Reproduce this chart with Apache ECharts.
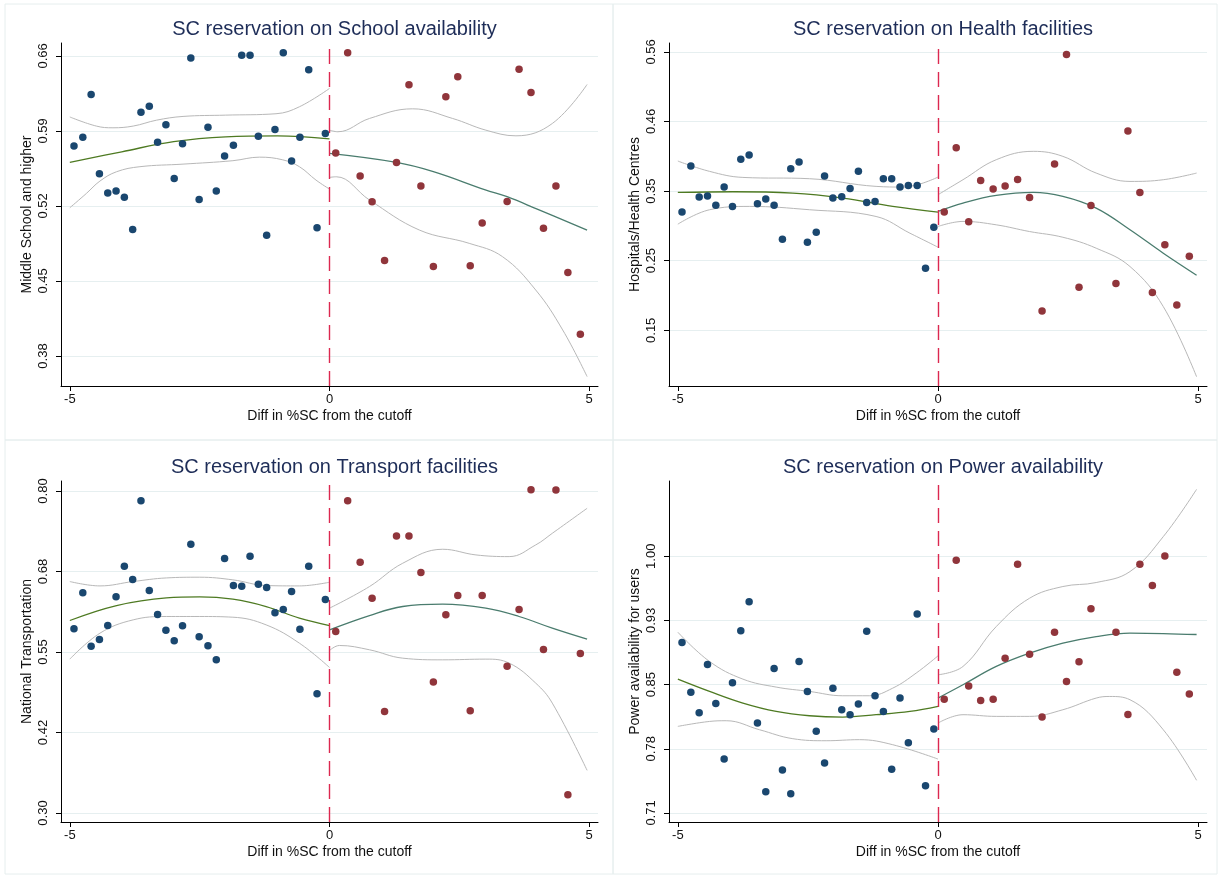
<!DOCTYPE html>
<html><head><meta charset="utf-8">
<script src="https://cdn.jsdelivr.net/npm/echarts@6/dist/echarts.min.js"></script>
<style>html,body{margin:0;padding:0;background:#fff;}#c{width:1222px;height:878px;}</style>
</head><body><div id="c"></div>
<script>
// ---------- shared bins (x positions) ----------
const binsLeft = [-4.92,-4.75,-4.59,-4.43,-4.27,-4.11,-3.95,-3.79,-3.63,-3.47,-3.31,-3.15,-2.99,-2.83,-2.67,-2.51,-2.34,-2.18,-2.02,-1.85,-1.69,-1.53,-1.37,-1.21,-1.05,-0.89,-0.73,-0.57,-0.40,-0.24,-0.08];
const binsRight = [0.12,0.35,0.59,0.82,1.06,1.29,1.53,1.76,2.00,2.24,2.47,2.71,2.94,3.42,3.65,3.88,4.12,4.36,4.59,4.83];

const xTicks = [-5, 0, 5];
const xTickLabels = ['-5', '0', '5'];

// ---------- Panel 1: School ----------
const schoolTitle = 'SC reservation on School availability';
const schoolYName = 'Middle School and higher';
const schoolTicks = [0.38, 0.45, 0.52, 0.59, 0.66];
const schoolTickLabels = ['0.38', '0.45', '0.52', '0.59', '0.66'];
const schoolRange = [0.352, 0.672];
const schoolLeft = [0.576,0.584,0.624,0.550,0.532,0.534,0.528,0.498,0.6075,0.613,0.5795,0.5957,0.5457,0.578,0.658,0.526,0.5935,0.534,0.5665,0.5767,0.6606,0.6606,0.585,0.4926,0.5913,0.6628,0.562,0.584,0.647,0.4997,0.5876];
const schoolRight = [0.5693,0.6628,0.548,0.524,0.469,0.5606,0.633,0.5385,0.4634,0.6218,0.6404,0.4643,0.504,0.5242,0.6476,0.6258,0.4991,0.5385,0.458,0.4003];
const schoolFitL = [[-5,0.5606],[-4,0.5705],[-3,0.580],[-2,0.5845],[-1,0.5854],[0,0.5826]];
const schoolHiL = [[-5,0.603],[-4.49,0.5945],[-4.17,0.5929],[-3.78,0.5945],[-3.33,0.600],[-2.82,0.6035],[-2.0,0.6047],[-1.03,0.6060],[-0.58,0.6125],[0,0.6296]];
const schoolLoL = [[-5,0.5183],[-4.68,0.5317],[-4.42,0.5432],[-4.1,0.5519],[-3.65,0.5566],[-2.82,0.559],[-1.86,0.5622],[-1.35,0.5655],[-0.9,0.5630],[-0.58,0.5566],[-0.26,0.5441],[0,0.5357]];
const schoolFitR = [[0,0.569],[1.29,0.5606],[2.0,0.552],[3.0,0.535],[3.42,0.5286],[4.0,0.517],[4.96,0.4975]];
const schoolHiR = [[0,0.5907],[0.16,0.5892],[0.77,0.6016],[1.6,0.6106],[2.37,0.6016],[3.01,0.5907],[3.59,0.5854],[4.29,0.5969],[4.96,0.6333]];
const schoolLoR = [[0,0.5466],[0.13,0.5472],[0.77,0.5255],[1.73,0.4975],[2.69,0.4851],[3.33,0.4727],[3.97,0.4416],[4.49,0.4043],[4.96,0.3608]];

// ---------- Panel 2: Health ----------
const healthTitle = 'SC reservation on Health facilities';
const healthYName = 'Hospitals/Health Centres';
const healthTicks = [0.15, 0.2525, 0.355, 0.4575, 0.56];
const healthTickLabels = ['0.15', '0.25', '0.35', '0.46', '0.56'];
const healthRange = [0.068, 0.573];
const healthLeft = [0.324,0.3919,0.3461,0.3476,0.3343,0.3609,0.3324,0.4017,0.4081,0.3363,0.3432,0.3343,0.2842,0.3879,0.3978,0.2798,0.2945,0.3771,0.3447,0.3466,0.3589,0.384,0.3383,0.3397,0.3732,0.3732,0.3609,0.3633,0.3633,0.2414,0.3019];
const healthRight = [0.324,0.4189,0.3098,0.3707,0.3579,0.3624,0.3722,0.3456,0.1785,0.3948,0.556,0.2134,0.3338,0.2188,0.4435,0.353,0.2055,0.2758,0.1873,0.2591];
const healthFitL = [[-5,0.353],[-3.94,0.354],[-2.79,0.352],[-1.83,0.3447],[-0.87,0.3324],[0,0.324]];
const healthHiL = [[-5,0.3992],[-4.39,0.384],[-3.75,0.3751],[-2.47,0.3732],[-1.19,0.3619],[-0.67,0.3609],[0,0.3756]];
const healthLoL = [[-5,0.3063],[-4.39,0.3275],[-3.62,0.3324],[-2.47,0.3275],[-1.19,0.3176],[-0.54,0.293],[0,0.2724]];
const healthFitR = [[0,0.325],[0.48,0.3373],[1.12,0.3486],[1.83,0.353],[2.40,0.3471],[3.04,0.3299],[3.69,0.298],[4.33,0.2635],[4.97,0.2311]];
const healthHiR = [[0,0.3496],[0.48,0.3717],[1.12,0.4012],[1.83,0.4135],[2.40,0.4061],[3.04,0.3815],[3.69,0.3692],[4.33,0.3717],[4.97,0.3815]];
const healthLoR = [[0,0.3029],[0.48,0.3103],[1.12,0.3053],[1.76,0.2954],[2.40,0.287],[3.04,0.2709],[3.69,0.2439],[4.33,0.1849],[4.97,0.0816]];

// ---------- Panel 3: Transport ----------
const transTitle = 'SC reservation on Transport facilities';
const transYName = 'National Transportation';
const transTicks = [0.30, 0.425, 0.55, 0.675, 0.80];
const transTickLabels = ['0.30', '0.42', '0.55', '0.68', '0.80'];
const transRange = [0.286, 0.8155];
const transLeft = [0.5859,0.6418,0.559,0.5694,0.5911,0.6356,0.6831,0.6625,0.785,0.6454,0.6082,0.5839,0.5673,0.5906,0.7173,0.5735,0.5596,0.5378,0.695,0.6532,0.6521,0.6987,0.6552,0.65,0.6108,0.616,0.6438,0.5854,0.6831,0.4851,0.6314];
const transRight = [0.5818,0.785,0.6893,0.6335,0.4577,0.7302,0.7302,0.6733,0.5032,0.6077,0.6376,0.4587,0.6376,0.528,0.616,0.802,0.5539,0.8015,0.3284,0.5477];
const transFitL = [[-5,0.5989],[-4.1,0.6221],[-3.14,0.634],[-2.5,0.6356],[-1.86,0.632],[-1.22,0.6206],[-0.58,0.6025],[0,0.5911]];
const transHiL = [[-5,0.6594],[-4.42,0.6526],[-3.78,0.6594],[-3.14,0.665],[-2.5,0.6661],[-1.86,0.662],[-1.22,0.6532],[-0.58,0.6526],[0,0.6583]];
const transLoL = [[-5,0.5389],[-4.42,0.5792],[-3.78,0.5999],[-3.14,0.6051],[-2.5,0.6051],[-1.86,0.604],[-1.22,0.5921],[-0.58,0.5637],[0,0.526]];
const transFitR = [[0,0.5844],[0.77,0.6066],[1.41,0.6206],[2.18,0.6242],[3.01,0.618],[3.65,0.6051],[4.29,0.587],[4.96,0.5699]];
const transHiR = [[0,0.618],[0.77,0.6516],[1.41,0.6878],[2.18,0.7095],[2.82,0.7007],[3.46,0.6981],[3.97,0.7162],[4.29,0.7343],[4.96,0.7731]];
const transLoR = [[0,0.5523],[0.19,0.5601],[0.77,0.5534],[1.41,0.5404],[2.18,0.5378],[3.01,0.5389],[3.46,0.5327],[3.97,0.5017],[4.29,0.4706],[4.96,0.3662]];

// ---------- Panel 4: Power ----------
const powerTitle = 'SC reservation on Power availability';
const powerYName = 'Power availability for users';
const powerTicks = [0.71, 0.7825, 0.855, 0.9275, 1.00];
const powerTickLabels = ['0.71', '0.78', '0.85', '0.93', '1.00'];
const powerRange = [0.6998, 1.085];
const powerLeft = [0.9026,0.8465,0.8232,0.8778,0.8337,0.7709,0.8571,0.9157,0.9485,0.8116,0.7341,0.8732,0.7585,0.7318,0.8811,0.8473,0.8022,0.7664,0.851,0.8266,0.821,0.833,0.9154,0.8424,0.8247,0.7593,0.8398,0.7894,0.9349,0.7408,0.8048];
const powerRight = [0.8386,0.9955,0.8533,0.8371,0.8386,0.8849,0.991,0.8894,0.8183,0.9142,0.8586,0.8808,0.9406,0.9142,0.8213,0.991,0.9669,1.0004,0.8691,0.8443];
const powerFitL = [[-5,0.8612],[-4.39,0.8473],[-3.75,0.8341],[-3.11,0.8247],[-2.47,0.8198],[-1.83,0.8183],[-1.19,0.821],[-0.54,0.8247],[0,0.8304]];
const powerHiL = [[-5,0.9142],[-4.39,0.8811],[-3.75,0.8612],[-3.11,0.8522],[-2.47,0.8473],[-1.83,0.8424],[-1.32,0.8424],[-0.87,0.851],[-0.42,0.868],[0,0.8875]];
const powerLoL = [[-5,0.8078],[-4.39,0.8134],[-4.07,0.8142],[-3.43,0.804],[-2.79,0.7939],[-2.15,0.7916],[-1.51,0.7928],[-0.87,0.7871],[0,0.7709]];
const powerFitR = [[0,0.8398],[0.48,0.8548],[1.12,0.8755],[1.76,0.8905],[2.40,0.9018],[3.04,0.9093],[3.69,0.9131],[4.33,0.9127],[4.97,0.9116]];
const powerHiR = [[0,0.8661],[0.48,0.8755],[1.12,0.9206],[1.76,0.9526],[2.40,0.9658],[3.04,0.9703],[3.69,0.9827],[4.33,1.0222],[4.97,1.0756]];
const powerLoR = [[0,0.8116],[0.48,0.821],[1.12,0.8191],[1.76,0.8191],[2.40,0.8266],[3.04,0.8398],[3.30,0.8416],[3.69,0.8379],[4.33,0.804],[4.97,0.7469]];

const xName = 'Diff in %SC from the cutoff';

// ---------- build ----------
const FONT = '"Liberation Sans", Arial, sans-serif';
const panels = [
  {title: schoolTitle, yName: schoolYName, ticks: schoolTicks, labels: schoolTickLabels, range: schoolRange, left: schoolLeft, right: schoolRight, fitL: schoolFitL, hiL: schoolHiL, loL: schoolLoL, fitR: schoolFitR, hiR: schoolHiR, loR: schoolLoR,
   grid: {left: 61, top: 43, width: 537, height: 343}, box: [5, 4, 608, 436]},
  {title: healthTitle, yName: healthYName, ticks: healthTicks, labels: healthTickLabels, range: healthRange, left: healthLeft, right: healthRight, fitL: healthFitL, hiL: healthHiL, loL: healthLoL, fitR: healthFitR, hiR: healthHiR, loR: healthLoR,
   grid: {left: 669, top: 43, width: 538, height: 343}, box: [613, 4, 604, 436]},
  {title: transTitle, yName: transYName, ticks: transTicks, labels: transTickLabels, range: transRange, left: transLeft, right: transRight, fitL: transFitL, hiL: transHiL, loL: transLoL, fitR: transFitR, hiR: transHiR, loR: transLoR,
   grid: {left: 61, top: 481, width: 537, height: 341}, box: [5, 440, 608, 434]},
  {title: powerTitle, yName: powerYName, ticks: powerTicks, labels: powerTickLabels, range: powerRange, left: powerLeft, right: powerRight, fitL: powerFitL, hiL: powerHiL, loL: powerLoL, fitR: powerFitR, hiR: powerHiR, loR: powerLoR,
   grid: {left: 669, top: 481, width: 538, height: 341}, box: [613, 440, 604, 434]}
];

function nearestLabel(ticks, labels, v) {
  let bi = 0, bd = Infinity;
  ticks.forEach((t, i) => { const d = Math.abs(t - v); if (d < bd) { bd = d; bi = i; } });
  return labels[bi];
}

const grids = [], xAxes = [], yAxes = [], titles = [], series = [], graphics = [];
const BLUE = '#1a476f', RED = '#90353b', GREEN = '#4e7a22', TEAL = '#4a7c6e', GREY = '#b8b8b8', VLINE = '#dc2850';

panels.forEach((p, i) => {
  grids.push(p.grid);
  graphics.push({type: 'rect', shape: {x: p.box[0], y: p.box[1], width: p.box[2], height: p.box[3]}, style: {fill: 'none', stroke: '#e6eeee', lineWidth: 1}, silent: true, z: -1});
  titles.push({text: p.title, left: p.grid.left + p.grid.width / 2, top: p.grid.top - 29, textAlign: 'center',
    textStyle: {fontFamily: FONT, fontSize: 20, fontWeight: 'normal', color: '#1e2d58'}});
  xAxes.push({type: 'value', gridIndex: i, min: -5.17, max: 5.17,
    name: xName, nameLocation: 'middle', nameGap: 23,
    nameTextStyle: {fontFamily: FONT, fontSize: 14, color: '#111'},
    axisLine: {show: true, onZero: false, lineStyle: {color: '#000', width: 1}},
    axisTick: {show: true, length: 5, customValues: xTicks, lineStyle: {color: '#000'}},
    axisLabel: {customValues: xTicks, margin: 7, fontFamily: FONT, fontSize: 13, color: '#111',
      formatter: v => nearestLabel(xTicks, xTickLabels, v)},
    splitLine: {show: false}});
  yAxes.push({type: 'value', gridIndex: i, min: p.range[0], max: p.range[1],
    name: p.yName, nameLocation: 'middle', nameGap: 27, nameRotate: 90,
    nameTextStyle: {fontFamily: FONT, fontSize: 14, color: '#111'},
    axisLine: {show: true, onZero: false, lineStyle: {color: '#000', width: 1}},
    axisTick: {show: true, length: 5, customValues: p.ticks, lineStyle: {color: '#000'}},
    axisLabel: {customValues: p.ticks, rotate: 90, margin: 11, fontFamily: FONT, fontSize: 13, color: '#111',
      formatter: v => nearestLabel(p.ticks, p.labels, v)},
    splitLine: {show: true, lineStyle: {color: '#e6eff0', width: 1}}});

  const lineBase = (data, color, w, z) => ({type: 'line', xAxisIndex: i, yAxisIndex: i, data: data, smooth: 0.4,
    showSymbol: false, symbol: 'none', silent: true, z: z, lineStyle: {color: color, width: w}});
  series.push(lineBase(p.hiL, GREY, 1, 2), lineBase(p.loL, GREY, 1, 2), lineBase(p.hiR, GREY, 1, 2), lineBase(p.loR, GREY, 1, 2));
  series.push(lineBase(p.fitL, GREEN, 1.3, 3), lineBase(p.fitR, TEAL, 1.3, 3));
  series.push({type: 'scatter', xAxisIndex: i, yAxisIndex: i, symbolSize: 7.5, z: 5, silent: true,
    itemStyle: {color: BLUE, opacity: 1}, data: binsLeft.map((x, k) => [x, p.left[k]]),
    markLine: {symbol: 'none', silent: true, label: {show: false}, animation: false,
      lineStyle: {type: [15, 8], color: VLINE, width: 1.4, opacity: 1}, data: [{xAxis: 0}]}});
  series.push({type: 'scatter', xAxisIndex: i, yAxisIndex: i, symbolSize: 7.5, z: 5, silent: true,
    itemStyle: {color: RED, opacity: 1}, data: binsRight.map((x, k) => [x, p.right[k]])});
});

const chart = echarts.init(document.getElementById('c'), null, {renderer: 'canvas'});
chart.setOption({
  animation: false,
  backgroundColor: '#fff',
  title: titles, grid: grids, xAxis: xAxes, yAxis: yAxes, series: series,
  graphic: graphics
});
</script></body></html>
